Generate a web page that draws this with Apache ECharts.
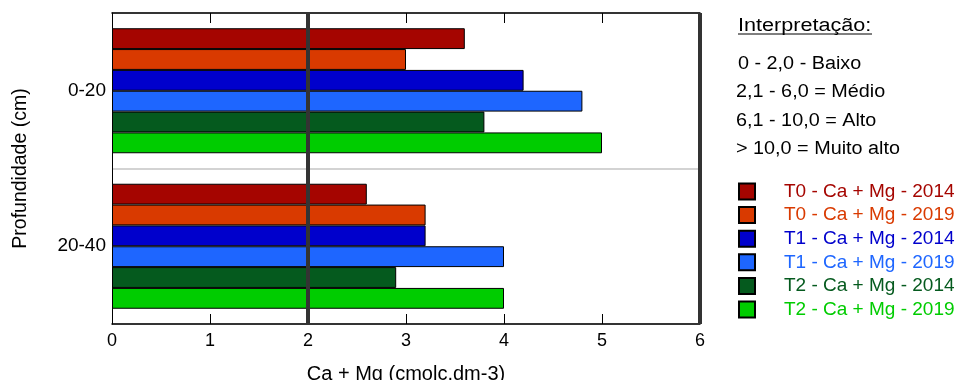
<!DOCTYPE html>
<html>
<head>
<meta charset="utf-8">
<script src="https://cdn.jsdelivr.net/npm/echarts@6/dist/echarts.min.js"></script>
<style>html,body{margin:0;padding:0;background:#fff;}#c{width:955px;height:380px;}</style>
</head>
<body>
<div id="c"></div>
<script>
const categories = ['0-20', '20-40'];
const seriesNames = ['T0 - Ca + Mg - 2014', 'T0 - Ca + Mg - 2019', 'T1 - Ca + Mg - 2014', 'T1 - Ca + Mg - 2019', 'T2 - Ca + Mg - 2014', 'T2 - Ca + Mg - 2019'];
const t0_2014 = [3.6, 2.6];
const t0_2019 = [3.0, 3.2];
const t1_2014 = [4.2, 3.2];
const t1_2019 = [4.8, 4.0];
const t2_2014 = [3.8, 2.9];
const t2_2019 = [5.0, 4.0];
const xTicks = [0, 1, 2, 3, 4, 5, 6];
const interpTitle = 'Interpretação:';
const interpLines = ['0 - 2,0 - Baixo', '2,1 - 6,0 = Médio', '6,1 - 10,0 = Alto', '> 10,0 = Muito alto'];

const colors = ['#A50500', '#D93A00', '#0000CC', '#1E66FF', '#055A1E', '#00CC00'];
const values = [t0_2014, t0_2019, t1_2014, t1_2019, t2_2014, t2_2019];
const FONT = '"Liberation Sans", Arial, sans-serif';

const chart = echarts.init(document.getElementById('c'));
const series = seriesNames.map((name, i) => ({
  name: name,
  type: 'bar',
  data: values[i],
  barGap: '0%',
  barCategoryGap: '19.6%',
  itemStyle: { color: colors[i], borderColor: '#000', borderWidth: 1 },
  emphasis: { disabled: true },
  markLine: i === 0 ? {
    silent: true,
    symbol: 'none',
    label: { show: false },
    lineStyle: { color: '#333', width: 4, type: 'solid' },
    data: [{ xAxis: 2 }, { xAxis: 6 }],
    z: 10
  } : undefined
}));

const interpGraphics = [
  { type: 'text', x: 738, y: 17, scaleX: 1.2, style: { text: interpTitle, font: '18px ' + FONT, fill: '#000' } },
  { type: 'line', shape: { x1: 738, y1: 34, x2: 872, y2: 34 }, style: { stroke: '#000', lineWidth: 1 } }
].concat(interpLines.map((t, i) => ({
  type: 'text', x: i === 0 ? 738 : 736, y: 55 + i * 28.4, scaleX: 1.1,
  style: { text: t, font: '18px ' + FONT, fill: '#000' }
})));

chart.setOption({
  animation: false,
  color: colors,
  grid: { left: 112, right: 255, top: 13, bottom: 56, outerBoundsMode: 'none', containLabel: false },
  legend: {
    orient: 'vertical',
    left: 738,
    top: 182,
    padding: 0,
    itemWidth: 16,
    itemHeight: 16,
    itemGap: 4.6,
    icon: 'rect',
    selectedMode: false,
    itemStyle: { borderColor: '#000', borderWidth: 2 },
    data: seriesNames.map((n, i) => ({ name: n, textStyle: { color: colors[i] } })),
    textStyle: { fontSize: 19, fontFamily: FONT, padding: [0, 0, 0, 24] }
  },
  xAxis: [{
    type: 'value', min: 0, max: 6, interval: 1, position: 'bottom',
    name: 'Ca + Mg (cmolc.dm-3)', nameLocation: 'middle', nameGap: 40,
    nameTextStyle: { fontSize: 20, fontFamily: FONT, color: '#000' },
    axisLine: { show: true, lineStyle: { color: '#000', width: 1.5 } },
    axisTick: { show: true, inside: true, length: 10, lineStyle: { color: '#000' } },
    axisLabel: { fontSize: 18, fontFamily: FONT, color: '#000', margin: 8,
      formatter: v => xTicks.indexOf(v) >= 0 ? String(v) : '' },
    splitLine: { show: false }
  }, {
    type: 'value', min: 0, max: 6, interval: 1, position: 'top',
    axisLine: { show: true, lineStyle: { color: '#000', width: 1.5 } },
    axisTick: { show: true, inside: true, length: 10, lineStyle: { color: '#000' } },
    axisLabel: { show: false },
    splitLine: { show: false }
  }],
  yAxis: {
    type: 'category', data: categories, inverse: true,
    name: 'Profundidade (cm)', nameLocation: 'middle', nameGap: 81, nameRotate: 90,
    nameTextStyle: { fontSize: 19.5, fontFamily: FONT, color: '#000' },
    axisLine: { show: true, lineStyle: { color: '#000', width: 1 } },
    axisTick: { show: false },
    axisLabel: { fontSize: 19, fontFamily: FONT, color: '#000', margin: 6 },
    splitLine: { show: true, lineStyle: { color: '#c4c4c4', width: 1.5 } }
  },
  series: series,
  graphic: interpGraphics
});
</script>
</body>
</html>
